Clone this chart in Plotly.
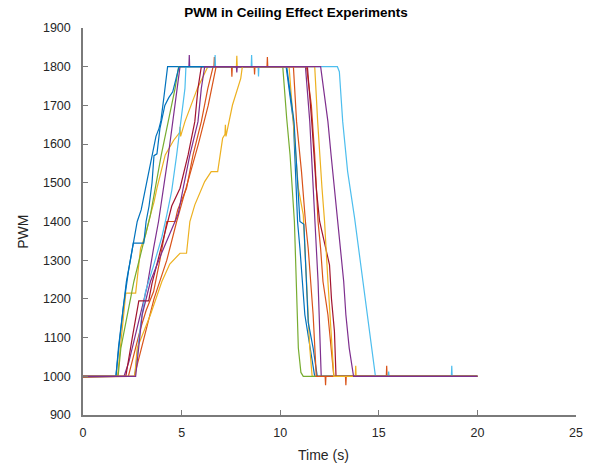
import plotly.graph_objects as go

# ---- data (time in s, PWM) ----
blue_a_t = [0, 1.67, 1.8, 2.0, 2.2, 2.4, 2.6, 2.75, 2.95, 3.15, 3.35, 3.5, 3.7, 3.85, 3.95, 4.1, 4.29,
            10.3, 10.67, 10.88, 11.0, 11.25, 11.5, 11.75, 20]
blue_a_y = [998, 1000, 1075, 1160, 1245, 1300, 1360, 1400, 1430, 1480, 1530, 1570, 1620, 1640, 1660, 1720, 1800,
            1800, 1658, 1400, 1331, 1159, 1073, 1000, 1000]

orange_a_t = [0, 2.3, 2.6, 2.9, 3.2, 3.58, 3.9, 4.25, 4.67, 4.8, 5.25, 5.58, 6.0, 6.33, 6.6,
              6.64, 6.66, 6.68, 7.53, 7.55, 7.57, 9.33, 9.35, 9.37,
              11.33, 11.58, 11.75, 11.92, 12.05, 12.17, 12.42, 12.58, 12.72,
              13.31, 13.33, 13.35, 15.38, 15.4, 15.42, 20]
orange_a_y = [998, 1000, 1060, 1120, 1170, 1219, 1300, 1400, 1400, 1430, 1486, 1572, 1658, 1744, 1800,
              1800, 1825, 1800, 1800, 1774, 1800, 1800, 1825, 1800,
              1800, 1700, 1572, 1400, 1330, 1245, 1159, 1073, 1000,
              1000, 977, 1000, 1000, 1027, 1000, 1000]

yellow_a_t = [0, 1.75, 2.17, 2.67, 2.92, 3.17, 3.42, 3.6, 3.75, 4.17, 4.6, 4.9, 4.92, 4.95, 5.17, 5.8, 6.33,
              7.78, 7.8, 7.82, 10.45, 10.67, 10.92, 11.17, 11.35, 11.5, 11.62,
              13.81, 13.83, 13.85, 20]
yellow_a_y = [1000, 1000, 1215, 1215, 1331, 1365, 1417, 1450, 1486, 1572, 1610, 1630, 1645, 1620, 1658, 1744, 1800,
              1800, 1828, 1800, 1800, 1658, 1486, 1417, 1245, 1073, 1000,
              1000, 1027, 1000, 1000]

purple_a_t = [0, 2.08, 2.33, 2.58, 2.83, 3.25, 3.58, 3.83, 4.33, 4.67, 4.92,
              5.37, 5.39, 5.41, 11.28, 11.5, 11.75, 11.92, 12.08, 20]
purple_a_y = [1000, 1000, 1038, 1090, 1150, 1232, 1331, 1400, 1572, 1701, 1800,
              1800, 1830, 1800, 1800, 1658, 1400, 1245, 1000, 1000]

green_t = [0, 1.78, 1.92, 2.25, 2.58, 3.0, 3.42, 3.97, 4.33, 4.67, 4.85,
           10.13, 10.33, 10.5, 10.72, 10.85, 10.92, 11.05, 11.17, 20]
green_y = [1000, 1000, 1073, 1159, 1245, 1331, 1417, 1572, 1658, 1744, 1800,
           1800, 1666, 1572, 1400, 1200, 1073, 1010, 1000, 1000]

lightblue_t = [0, 2.62, 2.92, 3.17, 3.6, 4.0, 4.25, 4.5, 4.75, 4.97, 5.17, 5.22,
               6.68, 6.7, 6.72, 8.53, 8.55, 8.57, 8.88, 8.9, 8.92,
               12.9, 13.0, 13.17, 13.42, 13.77, 14.08, 14.33, 14.55, 14.75, 14.83,
               15.48, 15.5, 15.52, 18.68, 18.7, 18.72, 20]
lightblue_y = [1000, 1000, 1133, 1219, 1290, 1360, 1417, 1480, 1572, 1658, 1744, 1800,
               1800, 1830, 1800, 1800, 1830, 1800, 1800, 1775, 1800,
               1800, 1787, 1658, 1529, 1410, 1288, 1202, 1116, 1030, 1000,
               1000, 1012, 1000, 1000, 1027, 1000, 1000]

darkred_t = [0, 2.17, 2.5, 2.83, 3.33, 3.5, 3.9, 4.2, 4.5, 4.92, 5.33, 5.67, 5.83, 6.0,
             11.38, 11.6, 11.83, 12.0, 12.3, 12.5, 12.6, 12.75, 12.83, 20]
darkred_y = [1000, 1000, 1100, 1195, 1195, 1240, 1320, 1380, 1440, 1486, 1572, 1658, 1744, 1800,
             1800, 1658, 1486, 1400, 1330, 1288, 1200, 1116, 1000, 1000]

blue_b_t = [0, 1.67, 1.85, 2.05, 2.3, 2.55, 3.08, 3.2, 3.35, 3.5, 3.6, 3.75, 3.9, 4.15, 4.35, 4.55, 4.87,
            10.33, 10.7, 11.0, 11.2, 11.3, 11.42, 11.67, 11.88, 20]
blue_b_y = [1000, 1000, 1090, 1180, 1270, 1344, 1344, 1400, 1440, 1500, 1570, 1575, 1640, 1700, 1720, 1735, 1800,
            1800, 1658, 1400, 1393, 1288, 1140, 1073, 1000, 1000]

orange_b_t = [0, 2.6, 3.1, 3.6, 4.25, 4.75, 5.3, 5.85, 6.35, 6.75, 8.68, 8.7, 8.72,
              10.67, 10.83, 11.08, 11.28, 11.42, 11.67, 11.83, 12.28, 12.3, 12.32, 20]
orange_b_y = [1000, 1000, 1100, 1200, 1300, 1400, 1500, 1600, 1700, 1800, 1800, 1780, 1800,
              1800, 1658, 1529, 1400, 1331, 1159, 1000, 1000, 977, 1000, 1000]

yellow_b_t = [0, 2.62, 2.75, 3.42, 4.0, 4.4, 4.92, 5.25, 5.42, 5.67, 6.17, 6.5, 6.83, 7.08, 7.2, 7.22, 7.25,
              7.58, 8.0, 8.08, 11.75, 11.9, 12.12, 12.25, 12.42, 12.58, 12.72, 20]
yellow_b_y = [1000, 1000, 1073, 1159, 1245, 1290, 1318, 1318, 1400, 1443, 1503, 1529, 1529, 1615, 1625, 1650, 1620,
              1701, 1770, 1800, 1800, 1658, 1486, 1400, 1245, 1116, 1000, 1000]

purple_b_t = [0, 2.67, 3.0, 3.42, 4.0, 4.4, 4.83, 5.08, 5.42, 5.83, 6.0, 6.17, 7.78, 7.8, 7.82,
              12.05, 12.42, 12.58, 12.92, 13.05, 13.22, 13.33, 13.5, 13.72, 20]
purple_b_y = [1000, 1000, 1159, 1245, 1320, 1370, 1420, 1486, 1572, 1658, 1744, 1800, 1800, 1785, 1800,
              1800, 1658, 1572, 1400, 1331, 1245, 1159, 1073, 1000, 1000]

series = [
    (blue_a_t, blue_a_y, "#0072BD"),
    (orange_a_t, orange_a_y, "#D95319"),
    (yellow_a_t, yellow_a_y, "#EDB120"),
    (purple_a_t, purple_a_y, "#7E2F8E"),
    (green_t, green_y, "#77AC30"),
    (lightblue_t, lightblue_y, "#4DBEEE"),
    (darkred_t, darkred_y, "#A2142F"),
    (blue_b_t, blue_b_y, "#0072BD"),
    (orange_b_t, orange_b_y, "#D95319"),
    (yellow_b_t, yellow_b_y, "#EDB120"),
    (purple_b_t, purple_b_y, "#7E2F8E"),
]

x_ticks = [0, 5, 10, 15, 20, 25]
y_ticks = [900, 1000, 1100, 1200, 1300, 1400, 1500, 1600, 1700, 1800, 1900]

fig = go.Figure()
for t, y, c in series:
    fig.add_trace(go.Scatter(x=t, y=y, mode="lines", line=dict(color=c, width=1.2),
                             showlegend=False, hoverinfo="skip"))

FONT = "Liberation Sans, Arial, Helvetica, sans-serif"
axis_common = dict(showline=True, linecolor="#7a7a7a", linewidth=1.5, ticks="inside",
                   ticklen=5, tickcolor="#7a7a7a", tickwidth=1, showgrid=False,
                   zeroline=False, mirror=False,
                   tickfont=dict(family=FONT, size=12.5, color="#262626"))

fig.update_layout(
    width=592, height=465,
    margin=dict(l=83, r=9, t=28, b=50),
    paper_bgcolor="white", plot_bgcolor="white",
    title=dict(text="<b>PWM in Ceiling Effect Experiments</b>", x=0.5, xanchor="center",
               xref="container", y=1 - 12 / 465, yref="container", yanchor="middle",
               font=dict(family=FONT, size=13.5, color="#000000")),
    xaxis=dict(range=[0, 25], tickvals=x_ticks, ticklabelstandoff=5, **axis_common),
    yaxis=dict(range=[900, 1900], tickvals=y_ticks, ticklabelstandoff=8, **axis_common),
    annotations=[
        dict(text="Time (s)", x=0.488, y=-0.103, xref="paper", yref="paper",
             xanchor="center", yanchor="middle", showarrow=False,
             font=dict(family=FONT, size=14, color="#262626")),
        dict(text="PWM", x=-0.122, y=0.473, xref="paper", yref="paper", textangle=-90,
             xanchor="center", yanchor="middle", showarrow=False,
             font=dict(family=FONT, size=14, color="#262626")),
    ],
)

fig.write_html("out.html")
